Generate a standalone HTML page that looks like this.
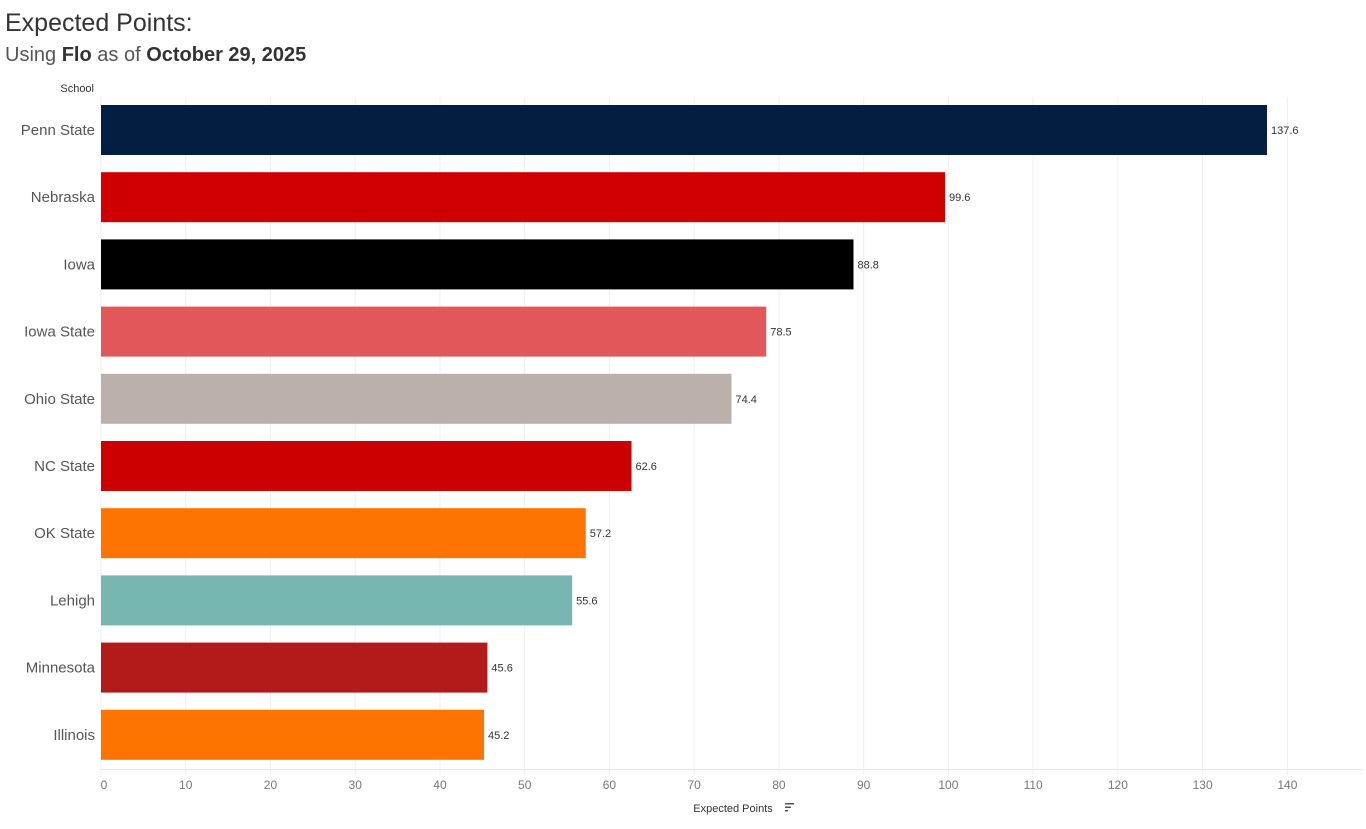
<!DOCTYPE html>
<html><head><meta charset="utf-8"><style>
body{margin:0;background:#fff;width:1366px;height:824px;overflow:hidden;font-family:"Liberation Sans",sans-serif}
</style></head><body>
<svg id="chart" width="1366" height="824" xmlns="http://www.w3.org/2000/svg">
<text x="5" y="31" font-size="25" fill="#333">Expected Points:</text>
<text x="5" y="61" font-size="20" fill="#555">Using <tspan font-weight="bold" fill="#333">Flo</tspan> as of <tspan font-weight="bold" fill="#333">October 29, 2025</tspan></text>
<text x="94" y="92" font-size="11" fill="#333" text-anchor="end">School</text>
<g id="grid"></g><g id="bars"></g><g id="axis"></g>
<text x="733" y="812" font-size="11" fill="#333" text-anchor="middle">Expected Points</text>
<g fill="#555"><rect x="785" y="803" width="9" height="1.5"/><rect x="785" y="806.5" width="6" height="1.5"/><rect x="785" y="810" width="3" height="1.5"/></g>
</svg>
<script>
const schools=["Penn State","Nebraska","Iowa","Iowa State","Ohio State","NC State","OK State","Lehigh","Minnesota","Illinois"];
const values=[137.6,99.6,88.8,78.5,74.4,62.6,57.2,55.6,45.6,45.2];
const colors=["#041e42","#d00000","#000000","#e1575a","#bbb1ac","#cc0000","#ff7300","#78b7b1","#b31b1b","#ff7300"];
const ticks=[0,10,20,30,40,50,60,70,80,90,100,110,120,130,140];
const NS="http://www.w3.org/2000/svg";
const x0=101,k=8.474,top0=105,step=67.2,bh=50;
const xs=v=>x0+v*k;
function mk(t,a,p){const e=document.createElementNS(NS,t);for(const n in a)e.setAttribute(n,a[n]);p.appendChild(e);return e;}
const grid=document.getElementById('grid'),bars=document.getElementById('bars'),axis=document.getElementById('axis');
ticks.forEach(t=>{
 const g=mk('line',{x1:xs(t),x2:xs(t),y1:97,y2:775,stroke:'#efefef','stroke-width':1},grid);
 
 
 const l=mk('text',{x:xs(t)+(t===0?3:0),y:789,'font-size':12,fill:'#777','text-anchor':'middle'},axis);
 l.textContent=t;
 
 
});
const ax=mk('line',{x1:x0,x2:1362,y1:769.5,y2:769.5,stroke:'#e6e6e6'},axis);


schools.forEach((s,i)=>{
 const y=top0+i*step;
 const r=mk('rect',{x:x0,y:y,width:xs(values[i])-x0,height:bh,fill:colors[i]},bars);
 
 
 const lab=mk('text',{x:95,y:y+bh/2+5,'font-size':15,fill:'#555','text-anchor':'end'},bars);
 lab.textContent=s;
 
 
 const v=mk('text',{x:xs(values[i])+4,y:y+bh/2+4,'font-size':11,fill:'#333'},bars);
 v.textContent=values[i].toFixed(1);
 
 
});
</script>
</body></html>
